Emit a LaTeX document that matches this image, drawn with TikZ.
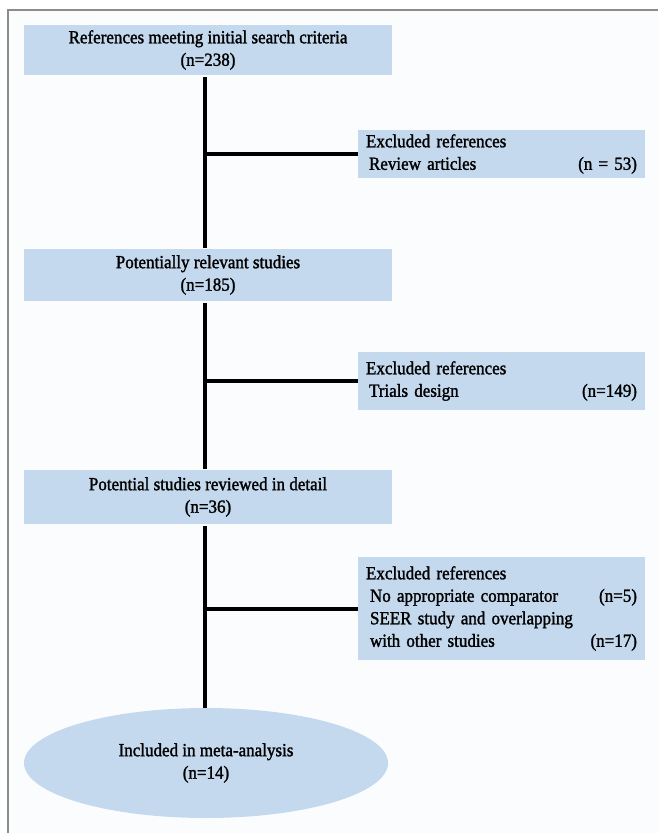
\documentclass[tikz,border=0pt]{standalone}
\usepackage{fontspec}
\setmainfont{Liberation Serif}[UprightFeatures={FakeBold=1.5,FakeStretch=0.92}]
\usetikzlibrary{shapes.geometric}
\definecolor{boxblue}{RGB}{197,217,238}
\definecolor{panel}{RGB}{251,252,254}
\definecolor{framegray}{RGB}{140,140,140}
\begin{document}
\begin{tikzpicture}[x=1pt,y=-1pt,
  font=\fontsize{18.5}{22.5}\selectfont,
  mainbox/.style={fill=boxblue, minimum width=368pt, align=center, inner sep=0pt},
  exclbox/.style={fill=boxblue, text width=271pt, inner xsep=8pt, inner ysep=0pt, align=left},
  finalbox/.style={ellipse, fill=boxblue, minimum width=364pt, minimum height=110pt, inner sep=0pt, align=center},
  link/.style={line width=4pt, black}]
  % canvas
  \fill[white] (0,0) rectangle (658,833);
  \useasboundingbox (0,0) rectangle (658,833);
  \fill[panel] (8,10) rectangle (658,833);
  \draw[framegray, line width=1.5pt] (8,833) -- (8,10) -- (658,10);
  \coordinate (sp) at (205,0);
  % main column
  \node[mainbox, minimum height=50pt] (b1) at (208,50) {References meeting initial search criteria\\(n=238)};
  \node[mainbox, minimum height=52pt] (b2) at (208,275) {Potentially relevant studies\\(n=185)};
  \node[mainbox, minimum height=54pt] (b3) at (208,497) {Potential studies reviewed in detail\\(n=36)};
  \node[finalbox] (b4) at (206,763) {Included in meta-analysis\\(n=14)};
  % exclusions
  \node[exclbox, minimum height=48pt] (e1) at (501.5,154) {Excluded references\\\hspace*{3pt}Review articles\hfill(n = 53)};
  \node[exclbox, minimum height=58pt] (e2) at (501.5,381) {Excluded references\\\hspace*{3pt}Trials design\hfill(n=149)};
  \node[exclbox, minimum height=103pt] (e3) at (501.5,608.5) {Excluded references\\\hspace*{4pt}No appropriate comparator\hfill(n=5)\\\hspace*{4pt}SEER study and overlapping\\\hspace*{4pt}with other studies\hfill(n=17)};
  % connectors
  \draw[link, shorten <=2pt, shorten >=1pt] (b1.south -| sp) -- (b2.north -| sp);
  \draw[link, shorten <=2pt, shorten >=1pt] (b2.south -| sp) -- (b3.north -| sp);
  \draw[link, shorten <=2pt] (b3.south -| sp) -- (b4.north -| sp);
  \draw[link] (e1.west -| sp) -- (e1.west);
  \draw[link] (e2.west -| sp) -- (e2.west);
  \draw[link] (e3.west -| sp) -- (e3.west);
\end{tikzpicture}
\end{document}
